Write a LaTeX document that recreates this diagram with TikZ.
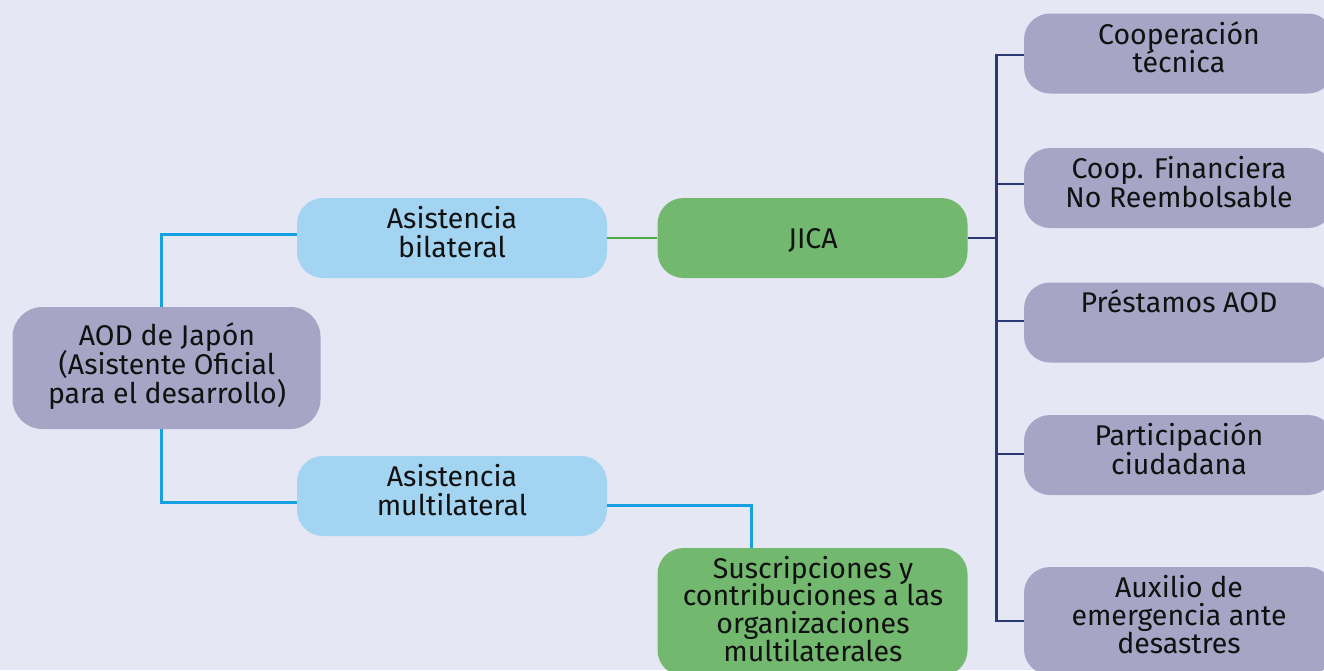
\documentclass[tikz,border=0pt]{standalone}
\usepackage{fontspec}
\setmainfont{Fira Sans}
\definecolor{bgc}{HTML}{E5E7F4}
\definecolor{purp}{HTML}{A6A5C5}
\definecolor{lblue}{HTML}{A3D5F3}
\definecolor{lgreen}{HTML}{72B86E}
\definecolor{blin}{HTML}{14A0E1}
\definecolor{nlin}{HTML}{2A3874}
\definecolor{glin}{HTML}{4DAA46}
\definecolor{txtc}{HTML}{111111}
\newcommand\mlines[2][29]{\vtop{\baselineskip=#1pt\lineskiplimit=-\maxdimen\halign{\hfil##\hfil\cr#2\crcr}}}
\begin{document}
\begin{tikzpicture}[x=1pt,y=-1pt,
  box/.style={draw=none, inner sep=0pt, minimum width=310pt, minimum height=80pt, rounded corners=26pt},
  pbox/.style={box, fill=purp},
  bbox/.style={box, fill=lblue},
  gbox/.style={box, fill=lgreen},
  txt/.style={font=\fontsize{28.5}{29}\selectfont, text=txtc, inner sep=0pt, anchor=base},
  bline/.style={draw=blin, line width=3pt},
  nline/.style={draw=nlin, line width=2.2pt},
  gline/.style={draw=glin, line width=2.4pt}]
\useasboundingbox (0,0) rectangle (1324,670);
\clip (0,0) rectangle (1324,670);
\fill[bgc] (0,0) rectangle (1324,670);
% boxes
\node[pbox, minimum width=308pt, minimum height=122pt, rounded corners=30pt] (aod) at (166.5,368) {};
\node[bbox] (bil) at (452,238) {};
\node[bbox] (mul) at (452,496) {};
\node[gbox] (jica) at (812.5,238) {};
\node[gbox, minimum height=128pt] (sus) at (812.5,612) {};
\node[pbox] (coop) at (1179,53.5) {};
\node[pbox] (fin) at (1179,188) {};
\node[pbox] (prest) at (1179,322.5) {};
\node[pbox] (part) at (1179,455) {};
\node[pbox, minimum height=108pt] (aux) at (1179,621) {};
\coordinate (hub) at (996.5,238);
\coordinate (drop) at (751,505.5);
% connectors
\draw[bline] ([xshift=-5pt]aod.north) |- ([yshift=3.5pt]bil.west);
\draw[bline] ([xshift=-5pt]aod.south) |- ([yshift=-6pt]mul.west);
\draw[bline] ([yshift=-9.5pt]mul.east) -- (drop) -- (drop |- sus.north);
\draw[gline] (bil.east) -- (jica.west);
\draw[nline] (jica.east) -- (hub);
\draw[nline] (hub) |- ([yshift=-1.5pt]coop.west);
\draw[nline] (hub) |- ([yshift=4pt]fin.west);
\draw[nline] (hub) |- ([yshift=1.5pt]prest.west);
\draw[nline] (hub) |- ([yshift=1pt]part.west);
\draw[nline] (hub) |- (aux.west);
% texts
\node[txt] (aodT) at (167,345) {\mlines{AOD de Japón\cr (Asistente Oficial\cr para el desarrollo)}};
\node[txt] (bilT) at (452,228.3) {\mlines{Asistencia\cr bilateral}};
\node[txt] (mulT) at (452,486.7) {\mlines{Asistencia\cr multilateral}};
\node[txt] (jicaT) at (813,248) {JICA};
\node[txt] (susT) at (813,578) {\mlines[27.7]{Suscripciones y\cr contribuciones a las\cr organizaciones\cr multilaterales}};
\node[txt] (coopT) at (1179,44) {\mlines[28.7]{Cooperación\cr técnica}};
\node[txt] (finT) at (1179,178) {\mlines{Coop. Financiera\cr No Reembolsable}};
\node[txt] (prestT) at (1179,312) {Préstamos AOD};
\node[txt] (partT) at (1179,445) {\mlines{Participación\cr ciudadana}};
\node[txt] (auxT) at (1179,597) {\mlines[28]{Auxilio de\cr emergencia ante\cr desastres}};
\end{tikzpicture}
\end{document}
